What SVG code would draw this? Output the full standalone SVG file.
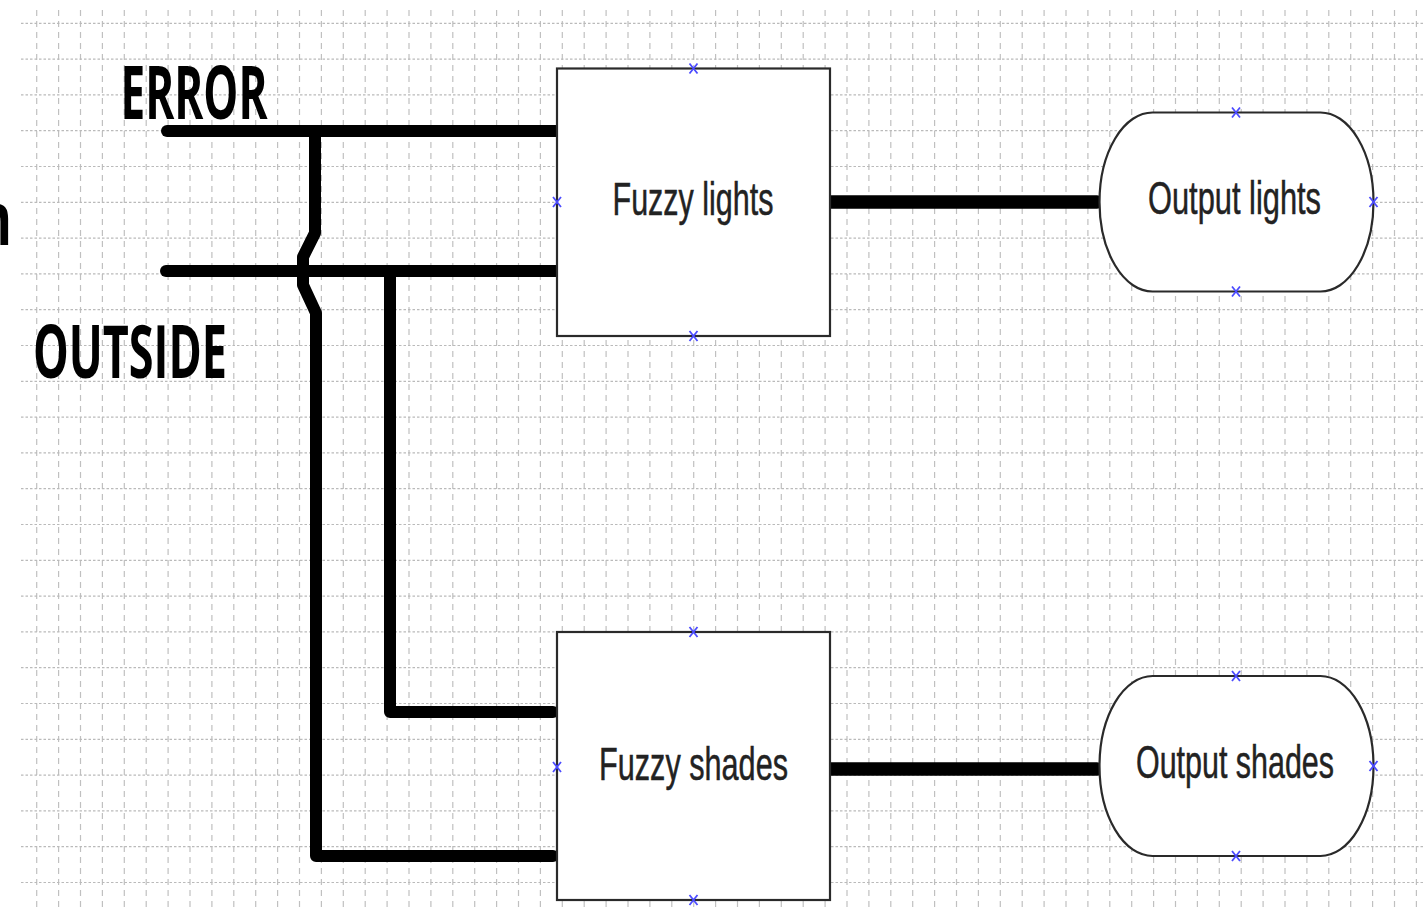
<svg xmlns="http://www.w3.org/2000/svg" width="1424" height="907" viewBox="0 0 1424 907">
  <style>
    .grid-v { fill: none; stroke: #c0c0c0; stroke-width: 1.2; stroke-dasharray: 6 5; }
    .grid-h { fill: none; stroke: #bababa; stroke-width: 1.2; stroke-dasharray: 2.5 2; }
    .wire { fill: none; stroke: #000; stroke-width: 12; stroke-linecap: round; stroke-linejoin: round; }
    .wire-out { stroke-width: 13.5; }
    .shape { fill: #fff; stroke: #2a2a2a; stroke-width: 2.2; }
    .label { font-family: "Liberation Sans", Arial, sans-serif; font-size: 46px; fill: #222; stroke: #222; stroke-width: 0.5; }
    .signal { font-family: "Open Sans", "Noto Sans", sans-serif; font-weight: 700; font-size: 73px; fill: #000; }
    .pin { fill: none; stroke: #4b4bff; stroke-width: 1.8; }
  </style>
  <defs>
    <path id="pin" class="pin" d="M-4 -5 L4 5 M4 -5 L-4 5"/>
  </defs>

  <rect width="1424" height="907" fill="#fff"/>

  <!-- background grid -->
  <g id="grid">
    <path class="grid-v" d="M36.7 10V907M58.6 10V907M80.5 10V907M102.4 10V907M124.3 10V907M146.2 10V907M168.1 10V907M190 10V907M211.9 10V907M233.8 10V907M255.7 10V907M277.6 10V907M299.5 10V907M321.4 10V907M343.3 10V907M365.2 10V907M387.1 10V907M409 10V907M430.9 10V907M452.8 10V907M474.7 10V907M496.6 10V907M518.5 10V907M540.4 10V907M562.3 10V907M584.2 10V907M606.1 10V907M628 10V907M649.9 10V907M671.8 10V907M693.7 10V907M715.6 10V907M737.5 10V907M759.4 10V907M781.3 10V907M803.2 10V907M825.1 10V907M847 10V907M868.9 10V907M890.8 10V907M912.7 10V907M934.6 10V907M956.5 10V907M978.4 10V907M1000.3 10V907M1022.2 10V907M1044.1 10V907M1066 10V907M1087.9 10V907M1109.8 10V907M1131.7 10V907M1153.6 10V907M1175.5 10V907M1197.4 10V907M1219.3 10V907M1241.2 10V907M1263.1 10V907M1285 10V907M1306.9 10V907M1328.8 10V907M1350.7 10V907M1372.6 10V907M1394.5 10V907M1416.4 10V907"/>
    <path class="grid-h" d="M21 23.3H1424M21 59.1H1424M21 94.9H1424M21 130.7H1424M21 166.5H1424M21 202.3H1424M21 238.1H1424M21 273.9H1424M21 309.7H1424M21 345.5H1424M21 381.3H1424M21 417.1H1424M21 452.9H1424M21 488.7H1424M21 524.5H1424M21 560.3H1424M21 596.1H1424M21 631.9H1424M21 667.7H1424M21 703.5H1424M21 739.3H1424M21 775.1H1424M21 810.9H1424M21 846.7H1424M21 882.5H1424"/>
  </g>

  <!-- input signal names -->
  <text class="signal" x="-22" y="245" textLength="34" lengthAdjust="spacingAndGlyphs">n</text>
  <text class="signal" x="120.5" y="118.5" textLength="147" lengthAdjust="spacingAndGlyphs">ERROR</text>
  <text class="signal" x="33" y="378" textLength="194" lengthAdjust="spacingAndGlyphs">OUTSIDE</text>

  <!-- connectors -->
  <g id="connectors">
    <path class="wire" d="M167 131H556"/>
    <path class="wire" d="M166 271H556"/>
    <path class="wire" d="M315 131V233L303 257V285L316 313V856H553"/>
    <path class="wire" d="M390 271V712H553"/>
    <path class="wire wire-out" d="M831 202H1097"/>
    <path class="wire wire-out" d="M831 769H1097"/>
  </g>

  <!-- fuzzy controllers -->
  <g id="fuzzy-lights">
    <rect class="shape" x="557" y="68.5" width="273" height="267.5"/>
    <text class="label" x="612.5" y="215" textLength="161" lengthAdjust="spacingAndGlyphs">Fuzzy lights</text>
    <use href="#pin" x="693.5" y="68.5"/>
    <use href="#pin" x="693.5" y="336"/>
    <use href="#pin" x="557" y="202"/>
  </g>

  <g id="fuzzy-shades">
    <rect class="shape" x="557" y="632" width="273" height="268"/>
    <text class="label" x="599" y="780" textLength="189" lengthAdjust="spacingAndGlyphs">Fuzzy shades</text>
    <use href="#pin" x="693.5" y="632"/>
    <use href="#pin" x="693.5" y="900"/>
    <use href="#pin" x="557" y="767"/>
  </g>

  <!-- outputs -->
  <g id="output-lights">
    <rect class="shape" x="1099.5" y="112.5" width="274" height="179" rx="53" ry="89.5"/>
    <text class="label" x="1148" y="213.5" textLength="173" lengthAdjust="spacingAndGlyphs">Output lights</text>
    <use href="#pin" x="1236" y="112.5"/>
    <use href="#pin" x="1236" y="291.5"/>
    <use href="#pin" x="1373.5" y="202"/>
  </g>

  <g id="output-shades">
    <rect class="shape" x="1099.5" y="676" width="274" height="180" rx="53" ry="90"/>
    <text class="label" x="1136" y="778" textLength="198" lengthAdjust="spacingAndGlyphs">Output shades</text>
    <use href="#pin" x="1236" y="676"/>
    <use href="#pin" x="1236" y="856"/>
    <use href="#pin" x="1373.5" y="766"/>
  </g>
</svg>
